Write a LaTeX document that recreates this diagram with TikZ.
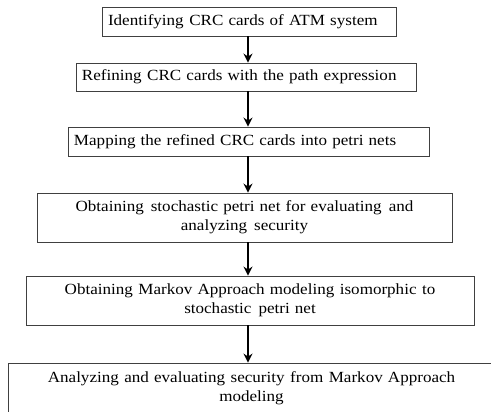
\documentclass[tikz,border=0pt]{standalone}
\usepackage{fontspec}
\setmainfont[FakeStretch=1.1]{Liberation Serif}
\usetikzlibrary{arrows.meta}
\newcommand{\gapA}{\hspace{5.5bp}}
\newcommand{\gapB}{\hspace{7bp}}
\begin{document}
\begin{tikzpicture}[x=1bp,y=-1bp,
  box/.style={draw=black!75, line width=0.9bp, rectangle, inner sep=0pt, font=\fontsize{15.5bp}{19bp}\selectfont},
  lbox/.style={box, align=left},
  cbox/.style={box, align=center},
  arr/.style={line width=1.6bp, -{Stealth[length=9bp,width=9bp,inset=3bp]}}]
\clip (0,0) rectangle (491,411);
\fill[white] (0,0) rectangle (491,411);
\coordinate (ax) at (248,0);
\node[lbox, minimum width=294bp, minimum height=29bp, text width=282bp] (b1) at (249,21.5) {Identifying\gapA CRC cards of ATM system};
\node[lbox, minimum width=340bp, minimum height=28bp, text width=328bp] (b2) at (246,77) {Refining\gapA CRC cards with the path expression};
\node[lbox, minimum width=361bp, minimum height=29bp, text width=349bp] (b3) at (248.5,141.5) {Mapping the refined CRC cards into petri nets};
\node[cbox, minimum width=415bp, minimum height=49bp, text width=410bp] (b4) at (244.5,217.5) {Obtaining\gapB stochastic petri net for evaluating\gapB and\\analyzing\gapB security};
\node[cbox, minimum width=448bp, minimum height=49bp, text width=440bp] (b5) at (250,300.5) {Obtaining\gapA Markov Approach modeling\gapA isomorphic\gapA to\\stochastic\gapB petri net};
\node[cbox, minimum width=487bp, minimum height=50bp, text width=480bp] (b6) at (251.5,388) {Analyzing\gapA and evaluating\gapA security\gapA from\gapA Markov Approach\\modeling};
\draw[arr] (b1.south -| ax) -- (b2.north -| ax);
\draw[arr] (b2.south -| ax) -- (b3.north -| ax);
\draw[arr] (b3.south -| ax) -- (b4.north -| ax);
\draw[arr] (b4.south -| ax) -- (b5.north -| ax);
\draw[arr] (b5.south -| ax) -- (b6.north -| ax);
\end{tikzpicture}
\end{document}
